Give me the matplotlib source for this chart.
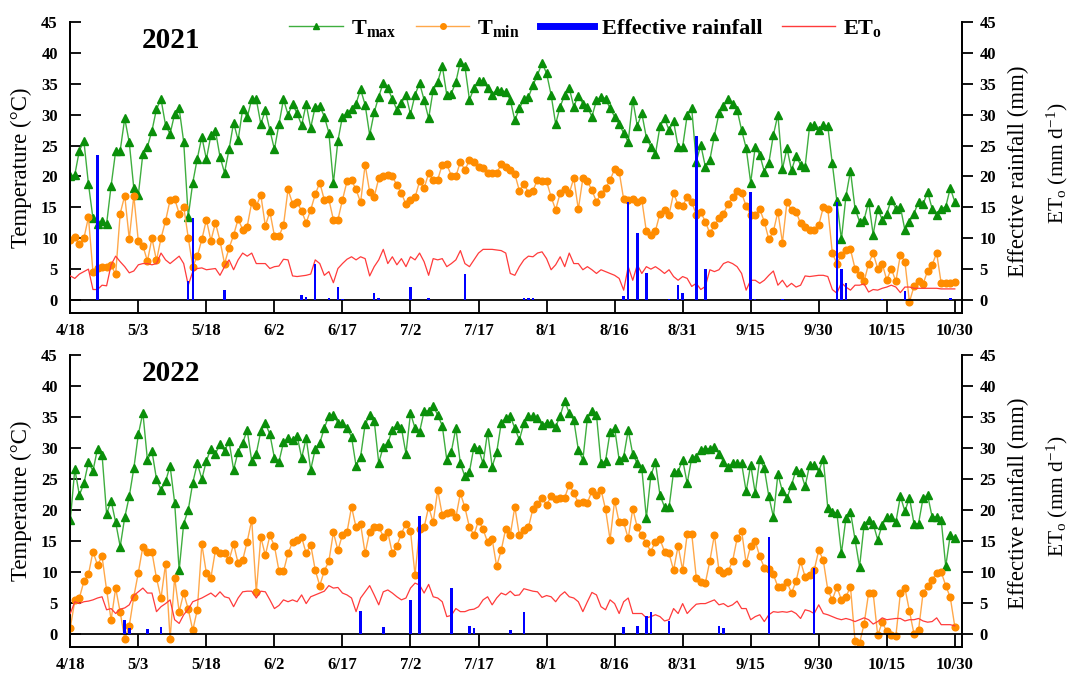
import numpy as np
import matplotlib
matplotlib.use("Agg")
import matplotlib.pyplot as plt
from matplotlib.lines import Line2D

# ============================================================
# Fonts
# ============================================================
plt.rcParams["font.family"] = "Liberation Serif"
plt.rcParams["mathtext.fontset"] = "custom"
plt.rcParams["mathtext.rm"] = "Liberation Serif"
plt.rcParams["mathtext.bf"] = "Liberation Serif:bold"
plt.rcParams["mathtext.it"] = "Liberation Serif:italic"

# ============================================================
# Data (daily, 4/18 .. 10/30)
# ============================================================
tick_labels = ["4/18", "5/3", "5/18", "6/2", "6/17", "7/2", "7/17",
               "8/1", "8/16", "8/31", "9/15", "9/30", "10/15", "10/30"]

tmax_2021 = [
    20.0, 20.3, 24.2, 25.7, 18.8, 13.2, 12.3, 12.8, 12.3, 18.5,
    24.1, 24.2, 29.4, 25.5, 18.1, 17.0, 23.7, 24.8, 27.4, 30.9,
    32.5, 28.3, 26.9, 30.1, 31.0, 25.6, 13.5, 19.0, 22.9, 26.4,
    22.8, 26.7, 27.4, 23.2, 20.6, 24.4, 28.7, 25.9, 30.9, 29.6,
    32.5, 32.5, 28.5, 30.7, 27.5, 24.4, 28.5, 32.5, 30.0, 31.7,
    30.2, 28.3, 31.7, 27.9, 31.3, 31.4, 29.7, 27.1, 18.9, 25.8,
    29.7, 30.2, 30.9, 31.8, 34.1, 31.6, 26.7, 30.4, 32.9, 35.2,
    34.3, 32.5, 30.8, 31.9, 33.2, 30.1, 33.2, 35.1, 32.4, 29.4,
    34.0, 35.3, 37.9, 33.2, 33.4, 35.3, 38.6, 37.8, 32.4, 34.3,
    35.5, 35.5, 34.3, 33.2, 34.0, 33.9, 33.7, 32.4, 29.1, 31.0,
    32.5, 32.8, 34.8, 36.4, 38.4, 36.7, 33.2, 28.5, 31.3, 33.2,
    34.3, 31.3, 33.1, 31.8, 31.2, 29.7, 32.3, 32.9, 32.6, 31.0,
    29.7, 28.5, 27.0, 25.6, 32.4, 28.2, 30.2, 26.3, 24.8, 23.6,
    28.1, 29.4, 27.5, 28.9, 24.8, 24.8, 29.9, 31.0, 22.4, 25.1,
    21.6, 22.7, 26.6, 30.2, 31.4, 32.5, 31.8, 30.8, 27.5, 24.6,
    19.0, 24.8, 23.5, 20.8, 22.2, 26.7, 30.0, 21.2, 24.6, 21.0,
    23.3, 21.9, 21.6, 28.2, 28.3, 27.5, 28.3, 28.1, 22.1, 16.0,
    9.8, 16.8, 20.9, 14.8, 12.7, 13.0, 15.9, 10.6, 14.8, 13.0,
    14.0, 16.2, 14.8, 15.1, 11.3, 12.7, 14.0, 15.9, 15.5, 17.5,
    14.8, 13.8, 14.8, 15.1, 18.1, 15.9]

tmin_2021 = [
    9.7, 10.2, 9.0, 10.0, 13.4, 4.5, 5.2, 5.3, 5.4, 5.6,
    4.2, 14.0, 16.9, 9.9, 16.9, 9.5, 8.8, 6.3, 10.0, 6.4,
    10.0, 12.8, 16.2, 16.4, 14.0, 15.1, 10.1, 5.4, 7.1, 9.8,
    13.0, 9.6, 12.5, 9.6, 5.9, 8.4, 10.5, 13.1, 11.4, 11.9,
    15.8, 15.2, 17.0, 12.0, 14.3, 10.4, 10.3, 12.1, 17.9, 15.6,
    15.9, 14.4, 12.5, 14.6, 17.1, 19.0, 16.2, 16.3, 13.0, 13.0,
    16.2, 19.2, 19.4, 17.9, 15.8, 21.9, 17.5, 16.7, 19.7, 20.0,
    20.2, 20.0, 18.6, 17.3, 15.5, 16.2, 16.6, 19.2, 18.1, 20.5,
    19.4, 19.5, 21.9, 22.0, 20.1, 20.0, 22.4, 21.0, 22.7, 22.4,
    21.6, 21.3, 20.5, 20.5, 20.5, 22.0, 21.6, 21.0, 20.4, 17.7,
    18.8, 17.4, 17.7, 19.5, 19.2, 19.2, 16.7, 14.6, 17.3, 17.9,
    17.3, 19.7, 14.7, 19.7, 19.2, 17.8, 15.9, 17.2, 18.1, 19.4,
    21.2, 20.8, 16.3, 16.2, 16.3, 15.8, 16.2, 11.1, 10.5, 11.2,
    14.0, 14.5, 13.8, 17.3, 15.4, 15.2, 16.7, 15.9, 13.8, 14.2, 12.7,
    10.8, 12.1, 13.2, 14.0, 15.5, 16.7, 17.7, 17.3, 15.2, 13.8,
    13.8, 14.7, 12.7, 9.8, 11.1, 14.3, 9.3, 15.9, 14.5, 14.3,
    12.4, 11.9, 11.4, 11.4, 12.1, 15.0, 14.8, 7.6, 5.9, 7.3,
    8.1, 8.2, 5.1, 4.0, 3.0, 5.9, 7.6, 5.1, 5.9, 3.2,
    5.1, 3.0, 7.3, 6.2, -0.3, 2.2, 3.1, 2.6, 4.7, 5.7,
    7.6, 2.7, 2.8, 2.8, 2.9]

et0_2021 = [
    3.9, 3.5, 4.2, 4.6, 5.0, 1.7, 1.7, 2.4, 2.3, 5.7,
    7.1, 6.2, 5.4, 4.4, 4.7, 5.7, 5.9, 5.9, 5.7, 5.9,
    7.6, 6.5, 5.9, 6.5, 7.1, 5.9, 2.4, 4.6, 5.1, 5.2,
    4.9, 5.0, 5.1, 4.0, 5.4, 6.5, 4.9, 6.5, 7.6, 7.1,
    7.6, 5.9, 5.9, 5.9, 5.1, 5.4, 5.5, 6.6, 6.5, 3.9,
    3.8, 3.9, 4.0, 4.2, 6.5, 5.9, 4.0, 4.6, 2.8, 5.1,
    5.9, 6.6, 7.0, 6.5, 7.0, 6.7, 3.9, 5.4, 6.5, 8.2,
    5.9, 7.0, 5.7, 6.7, 5.4, 7.0, 6.5, 7.6, 6.2, 4.0,
    6.7, 6.5, 6.7, 5.4, 5.9, 6.5, 8.0, 5.9, 5.4, 6.5,
    7.6, 8.2, 8.2, 8.2, 8.1, 8.0, 7.6, 4.3, 4.0, 5.4,
    6.5, 7.1, 7.0, 7.6, 7.8, 6.7, 4.9, 5.7, 7.0, 5.4,
    7.6, 5.9, 5.9, 4.9, 5.4, 4.9, 4.3, 4.9, 4.6, 4.3,
    4.0, 3.5, 1.6, 5.4, 3.2, 5.7, 4.3, 5.4, 5.0, 5.4,
    4.9, 4.3, 4.9, 3.8, 3.2, 3.8, 3.5, 2.2, 2.7, 1.7, 2.2,
    4.9, 4.6, 4.9, 5.9, 6.2, 5.9, 5.4, 4.3, 1.6, 3.2,
    3.2, 2.7, 3.2, 4.0, 4.7, 2.4, 3.2, 2.1, 2.7, 2.1,
    2.4, 3.9, 3.8, 3.9, 4.0, 4.0, 3.8, 1.7, 1.1, 2.8,
    2.1, 1.6, 2.4, 2.4, 2.6, 1.3, 1.7, 1.6, 1.9, 2.1,
    2.4, 2.1, 1.2, 2.1, 2.1, 1.9, 1.9, 1.9, 1.9, 1.9,
    1.9, 1.8, 1.8, 1.8, 1.8]

rain_days_2021 = [6, 26, 27, 34, 51, 52, 54, 57, 59, 60, 67, 68, 75, 79, 87,
                  100, 101, 102, 122, 123, 125, 127, 132, 134, 135, 138, 140,
                  150, 151, 157, 169, 170, 171, 179, 184, 194]
rain_2021 = [23.5, 3.1, 13.2, 1.7, 0.8, 0.5, 5.9, 0.4, 2.1, 0.2, 1.1, 0.4, 2.1,
             0.3, 4.2, 0.4, 0.4, 0.3, 0.6, 15.9, 10.8, 4.3, 0.2, 2.4, 1.1,
             26.6, 5.0, 17.5, 0.2, 0.2, 15.9, 5.1, 2.8, 0.2, 1.5, 0.3]

tmax_2022 = [
    18.4, 26.6, 22.4, 24.3, 27.7, 26.3, 29.9, 28.9, 19.4, 21.5,
    18.0, 14.1, 18.8, 22.2, 26.7, 32.2, 35.7, 28.1, 29.5, 25.0,
    23.2, 24.6, 27.1, 21.2, 10.3, 17.8, 20.0, 24.4, 27.5, 25.0,
    27.9, 29.9, 29.1, 30.6, 29.5, 31.1, 26.5, 29.4, 30.8, 32.9,
    27.9, 29.1, 32.7, 34.0, 32.2, 28.4, 27.8, 30.9, 31.6, 31.3,
    32.0, 28.4, 31.6, 26.5, 29.8, 30.8, 33.2, 35.2, 35.3, 34.1,
    34.0, 33.2, 31.8, 27.1, 28.6, 33.8, 35.3, 34.4, 27.6, 30.2,
    30.8, 32.9, 33.7, 33.2, 29.1, 35.6, 33.2, 32.6, 35.9, 36.0,
    36.8, 35.3, 33.6, 28.1, 29.4, 33.2, 27.5, 25.4, 26.2, 30.2,
    29.9, 27.5, 32.6, 27.0, 29.3, 34.0, 34.8, 35.1, 33.2, 31.3,
    34.0, 35.1, 35.1, 34.8, 33.7, 34.1, 34.0, 33.4, 35.2, 37.6,
    35.6, 34.5, 29.7, 28.1, 34.8, 36.0, 35.3, 27.5, 27.9, 32.6,
    33.2, 28.1, 28.6, 32.9, 29.0, 27.5, 26.7, 18.7, 25.6, 27.7,
    22.4, 20.5, 20.4, 26.2, 26.2, 28.1, 24.3, 28.4, 28.6, 29.7, 29.9,
    29.9, 30.2, 29.1, 27.8, 27.0, 27.5, 27.5, 27.5, 23.0, 27.3,
    22.7, 28.2, 26.7, 22.2, 18.9, 25.8, 23.0, 21.9, 24.0, 26.5,
    26.2, 23.8, 27.3, 27.3, 26.2, 28.3, 20.3, 19.7, 19.5, 13.0,
    18.7, 19.7, 15.3, 10.8, 17.6, 18.4, 17.8, 15.2, 17.6, 18.8,
    18.8, 18.0, 22.2, 19.8, 22.0, 17.8, 17.8, 21.9, 22.4, 18.9,
    18.9, 18.4, 10.9, 16.0, 15.4]

tmin_2022 = [
    1.0, 5.4, 5.8, 8.5, 9.6, 13.3, 11.1, 12.5, 7.1, 2.3,
    7.4, 3.5, -0.8, 1.3, 6.0, 9.9, 14.1, 13.3, 13.2, 9.0,
    5.8, 11.3, -0.8, 9.1, 3.6, 6.6, 4.0, 0.6, 3.9, 14.5,
    9.8, 9.1, 13.5, 13.0, 13.0, 11.9, 14.5, 11.4, 11.9, 14.9,
    18.4, 6.7, 15.6, 12.7, 15.9, 14.2, 10.2, 10.1, 13.0, 14.8,
    15.2, 15.6, 13.0, 14.4, 10.3, 7.8, 10.2, 11.7, 16.4, 13.5,
    16.0, 16.4, 20.5, 17.2, 17.7, 13.0, 16.5, 17.3, 17.3, 15.7,
    16.4, 13.0, 14.2, 16.2, 17.8, 16.6, 9.5, 16.9, 17.2, 20.5,
    18.0, 23.2, 19.2, 19.5, 19.7, 18.8, 22.7, 20.4, 17.2, 16.0,
    18.3, 16.9, 14.8, 15.3, 10.9, 13.5, 17.0, 16.0, 20.5, 15.9,
    16.8, 17.2, 20.2, 20.9, 22.0, 20.8, 22.2, 21.8, 21.9, 22.0,
    24.1, 22.8, 21.1, 21.3, 21.2, 23.0, 22.4, 23.3, 20.1, 15.2,
    21.5, 18.0, 18.0, 15.4, 20.2, 17.2, 15.9, 14.6, 13.3, 14.9,
    15.3, 13.3, 13.0, 10.3, 14.2, 10.3, 16.1, 16.2, 9.1, 8.4, 8.2,
    11.8, 16.0, 10.3, 9.9, 10.1, 11.7, 15.4, 16.6, 11.4, 14.2,
    15.0, 12.5, 10.7, 10.5, 9.6, 7.6, 7.6, 8.4, 6.6, 8.5,
    11.7, 9.2, 9.5, 10.3, 13.5, 11.9, 7.1, 5.5, 7.6, 5.5,
    6.0, 7.6, -1.1, -1.5, 1.6, 6.6, 6.6, -0.2, 1.9, 0.4,
    -0.2, -0.4, 6.6, 7.4, 3.7, 0.0, 0.6, 6.6, 7.8, 8.7,
    9.9, 10.0, 7.8, 5.9, 1.2]

et0_2022 = [
    3.3, 5.2, 4.9, 5.2, 5.3, 5.5, 5.8, 6.0, 3.9, 4.1,
    3.3, 4.0, 4.2, 4.7, 6.2, 6.8, 7.4, 6.6, 6.6, 3.6,
    4.4, 4.9, 5.5, 2.3, 1.7, 3.1, 4.0, 5.2, 5.5, 5.8,
    6.2, 6.6, 6.0, 6.8, 6.0, 5.8, 4.4, 5.8, 6.8, 6.9,
    6.9, 5.8, 6.9, 6.8, 5.5, 4.1, 4.6, 5.5, 5.2, 5.5,
    5.2, 6.3, 4.9, 6.0, 6.3, 6.6, 6.9, 7.8, 7.4, 7.5,
    6.6, 6.3, 5.8, 3.6, 5.8, 6.8, 7.8, 6.3, 4.7, 6.8,
    7.1, 6.6, 6.0, 5.5, 5.8, 7.4, 8.2, 7.9, 6.6, 8.0,
    6.0, 5.8, 5.2, 2.8, 3.0, 4.1, 3.6, 3.6, 3.9, 4.0,
    4.4, 5.5, 6.0, 4.7, 5.8, 6.6, 6.3, 6.9, 6.2, 6.3,
    7.3, 7.1, 6.9, 6.8, 5.9, 6.2, 6.0, 5.2, 6.2, 6.8,
    6.0, 5.8, 5.2, 3.6, 5.2, 6.7, 6.3, 4.4, 3.9, 5.5,
    4.9, 3.3, 5.2, 5.8, 3.3, 3.3, 3.3, 2.6, 2.8, 3.1,
    2.8, 2.1, 2.3, 4.1, 3.3, 4.9, 3.3, 4.1, 4.8, 4.9, 4.9,
    5.2, 5.5, 4.7, 4.9, 4.4, 4.7, 5.3, 4.1, 4.1, 2.3,
    2.8, 3.1, 2.0, 3.1, 3.6, 3.5, 3.6, 3.5, 3.7, 3.3,
    2.5, 3.9, 3.7, 3.3, 4.7, 3.3, 3.1, 2.8, 2.5, 2.3,
    2.5, 2.3, 2.0, 2.3, 2.6, 2.3, 1.6, 2.0, 2.6, 2.3,
    2.4, 2.5, 2.5, 2.1, 2.3, 2.3, 2.5, 2.1, 1.9, 2.0,
    2.6, 1.5, 1.5, 1.5, 1.3]

rain_days_2022 = [12, 13, 17, 20, 64, 69, 75, 77, 84, 88, 89, 97, 100,
                  122, 125, 127, 128, 132, 143, 144, 154, 164]
rain_2022 = [2.3, 1.0, 0.8, 1.2, 3.7, 1.2, 5.4, 19.0, 7.4, 1.3, 0.9, 0.6, 3.5,
             1.2, 1.3, 2.9, 3.5, 2.1, 1.3, 0.9, 15.7, 10.6]

# ============================================================
# Style
# ============================================================
C_TMAX_LINE = "#3fae3f"
C_TMAX_MK = "#0a8f0a"
C_TMIN_LINE = "#ffa84a"
C_TMIN_MK = "#ff8c00"
C_RAIN = "#0000ff"
C_ET0 = "#ff3b3b"

Y_LOW = -2.1
X_HIGH = 196.5


def draw_panel(ax, tmax, tmin, et0, rain_days, rain, year):
    days_max = np.arange(len(tmax))
    days_min = np.arange(len(tmin))
    days_et = np.arange(len(et0))

    ax.plot(days_max, tmax, color=C_TMAX_LINE, lw=1.0, marker="^", ms=5.5,
            mfc=C_TMAX_MK, mec=C_TMAX_MK, zorder=3)
    ax.plot(days_min, tmin, color=C_TMIN_LINE, lw=1.0, marker="o", ms=4.8,
            mfc=C_TMIN_MK, mec=C_TMIN_MK, zorder=3)

    ax2 = ax.twinx()
    ax2.bar(rain_days, rain, width=0.55, color=C_RAIN, zorder=4)
    ax2.plot(days_et, et0, color=C_ET0, lw=0.9, zorder=3)

    for a in (ax, ax2):
        a.set_xlim(0, X_HIGH)
        a.set_ylim(Y_LOW, 45)
        a.set_yticks(np.arange(0, 46, 5))

    # band under zero with date separators
    tick_days = np.arange(0, 196, 15)
    ax.axhline(0, color="k", lw=1.3, zorder=5)
    ax.vlines(tick_days, Y_LOW, 0, color="k", lw=1.3, zorder=5)

    ax.set_xticks(tick_days)
    ax.set_xticklabels(tick_labels, fontweight="bold", fontsize=12)
    ax.tick_params(axis="x", length=0, pad=7.5)
    ax.tick_params(axis="y", direction="in", length=8, width=1.3,
                   labelsize=12, pad=9)
    ax2.tick_params(axis="y", direction="out", length=8, width=1.3,
                    labelsize=12, pad=5)
    for lab in ax.get_yticklabels() + ax2.get_yticklabels():
        lab.set_fontweight("bold")

    ax.spines["top"].set_visible(False)
    ax2.spines["top"].set_visible(False)
    for a in (ax, ax2):
        for s in ("left", "right", "bottom"):
            a.spines[s].set_linewidth(1.3)

    ax.text(0.113, 0.935, year, transform=ax.transAxes, ha="center",
            va="center", fontsize=21, fontweight="bold")
    return ax2


fig = plt.figure(figsize=(10.7, 6.75), dpi=100)
ax_top = fig.add_axes([0.0657, 0.5363, 0.833, 0.4311])
ax_bot = fig.add_axes([0.0657, 0.0415, 0.833, 0.4326])

draw_panel(ax_top, tmax_2021, tmin_2021, et0_2021, rain_days_2021, rain_2021, "2021")
draw_panel(ax_bot, tmax_2022, tmin_2022, et0_2022, rain_days_2022, rain_2022, "2022")

# axis titles
for yc_t, yc_r, yc_e in ((0.751, 0.747, 0.758), (0.258, 0.255, 0.265)):
    fig.text(0.02, yc_t, "Temperature (°C)", rotation=90, ha="center",
             va="center", fontsize=16.5)
    fig.text(0.952, yc_r, "Effective rainfall (mm)", rotation=90,
             ha="center", va="center", fontsize=16.5)
    fig.text(0.988, yc_e, r"ET$_{\mathrm{o}}$ (mm d$^{\mathrm{-1}}$)",
             rotation=90, ha="center", va="center", fontsize=15.5)

# legend
handles = [
    Line2D([], [], color=C_TMAX_LINE, lw=1.0, marker="^", ms=4.5,
           mfc=C_TMAX_MK, mec=C_TMAX_MK),
    Line2D([], [], color=C_TMIN_LINE, lw=1.0, marker="o", ms=4,
           mfc=C_TMIN_MK, mec=C_TMIN_MK),
    Line2D([], [], color=C_RAIN, lw=5),
    Line2D([], [], color=C_ET0, lw=1.0),
]
labels = [r"T$_{\mathbf{max}}$", r"T$_{\mathbf{min}}$", "Effective rainfall",
          r"ET$_{\mathbf{o}}$"]
ax_top.legend(handles, labels, loc="center", bbox_to_anchor=(0.5785, 0.978),
              ncol=4, frameon=False, numpoints=1, handlelength=2.4,
              columnspacing=0.9, handletextpad=0.36,
              prop={"weight": "bold", "size": 16})

fig.savefig("out.png", dpi=100)
